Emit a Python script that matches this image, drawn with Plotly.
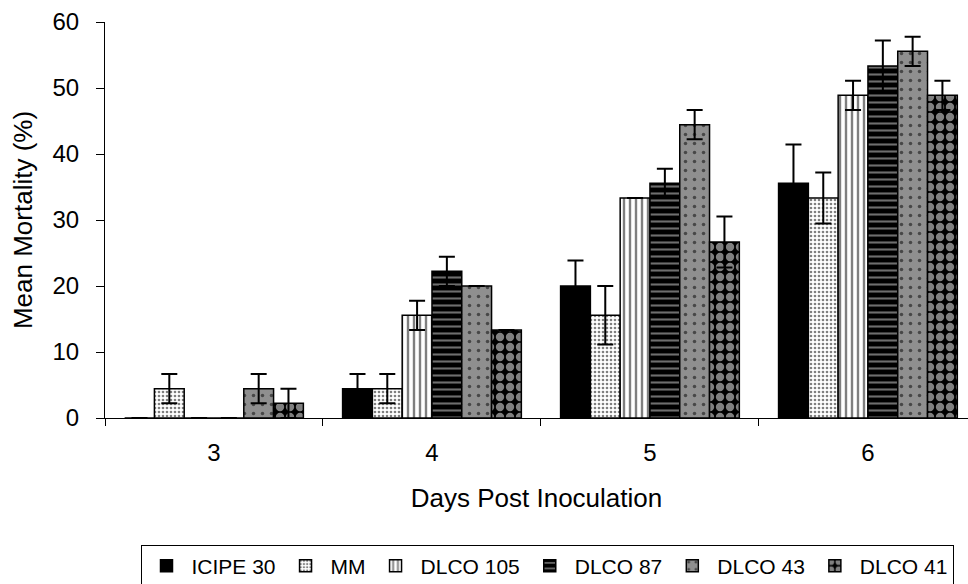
import plotly.graph_objects as go

# Days post inoculation (x categories)
days = ["3", "4", "5", "6"]

# Isolates
isolates = ["ICIPE 30", "MM", "DLCO 105", "DLCO 87", "DLCO 43", "DLCO 41"]

# Mean mortality (%) per isolate, one value per day
icipe30 = [0.0, 4.44, 20.0, 35.56]
mm = [4.44, 4.44, 15.56, 33.33]
dlco105 = [0.0, 15.56, 33.33, 48.89]
dlco87 = [0.0, 22.22, 35.56, 53.33]
dlco43 = [4.44, 20.0, 44.44, 55.56]
dlco41 = [2.22, 13.33, 26.67, 48.89]

# Standard errors (None = no error bar drawn)
icipe30_se = [None, 2.22, 3.85, 5.88]
mm_se = [2.22, 2.22, 4.44, 3.85]
dlco105_se = [None, 2.22, None, 2.22]
dlco87_se = [None, 2.22, 2.22, 3.85]
dlco43_se = [2.22, None, 2.22, 2.22]
dlco41_se = [2.22, None, 3.85, 2.22]

means = [icipe30, mm, dlco105, dlco87, dlco43, dlco41]
errors = [icipe30_se, mm_se, dlco105_se, dlco87_se, dlco43_se, dlco41_se]

# Monochrome fills with hatch patterns
fills = [
    dict(color="black"),
    dict(color="white", pattern=dict(shape=".", fgcolor="black", bgcolor="white",
                                     size=4, solidity=0.35, fillmode="overlay")),
    dict(color="white", pattern=dict(shape="|", fgcolor="black", bgcolor="white",
                                     size=6, solidity=0.4, fillmode="overlay")),
    dict(color="black", pattern=dict(shape="-", fgcolor="#dcdcdc", bgcolor="black",
                                     size=7, solidity=0.3, fillmode="overlay")),
    dict(color="#8f8f8f", pattern=dict(shape=".", fgcolor="black", bgcolor="#8f8f8f",
                                       size=9, solidity=0.12, fillmode="overlay")),
    dict(color="black", pattern=dict(shape=".", fgcolor="white", bgcolor="black",
                                     size=10, solidity=0.55, fillmode="overlay")),
]

FONT = "Liberation Sans, Arial, sans-serif"

fig = go.Figure()
for name, vals, errs, fill in zip(isolates, means, errors, fills):
    marker = dict(fill)
    marker["line"] = dict(color="black", width=1.5)
    fig.add_trace(go.Bar(
        name=name,
        x=days,
        y=vals,
        marker=marker,
        error_y=dict(type="data", array=errs, visible=True,
                     color="black", thickness=2, width=8),
    ))

fig.update_layout(
    width=968,
    height=584,
    margin=dict(l=105, r=0, t=22, b=166),
    paper_bgcolor="white",
    plot_bgcolor="white",
    barmode="group",
    bargap=0.18,
    bargroupgap=0,
    font=dict(family=FONT, size=24, color="black"),
    showlegend=True,
    legend=dict(
        orientation="h",
        xref="container", yref="container",
        x=547 / 968, xanchor="center",
        y=1 - 566 / 584, yanchor="middle",
        bordercolor="black", borderwidth=1,
        font=dict(family=FONT, size=21),
        itemwidth=40,
        traceorder="normal",
    ),
)

fig.update_xaxes(
    type="category",
    categoryorder="array",
    categoryarray=days,
    range=[-0.5, 3.459],
    tickson="boundaries",
    ticks="outside",
    ticklen=7,
    tickcolor="black",
    tickfont=dict(size=24),
    showline=True,
    linecolor="black",
    linewidth=1,
    showgrid=False,
    ticklabelstandoff=13,
    title=dict(text="Days Post Inoculation", standoff=24, font=dict(size=26)),
)

fig.update_yaxes(
    range=[0, 60],
    dtick=10,
    ticks="outside",
    ticklen=8,
    tickcolor="black",
    tickfont=dict(size=24),
    showline=True,
    linecolor="black",
    linewidth=1,
    showgrid=False,
    zeroline=False,
    ticklabelstandoff=12,
    title=dict(text="Mean Mortality (%)", standoff=12, font=dict(size=26)),
)

fig.write_html("out.html")
